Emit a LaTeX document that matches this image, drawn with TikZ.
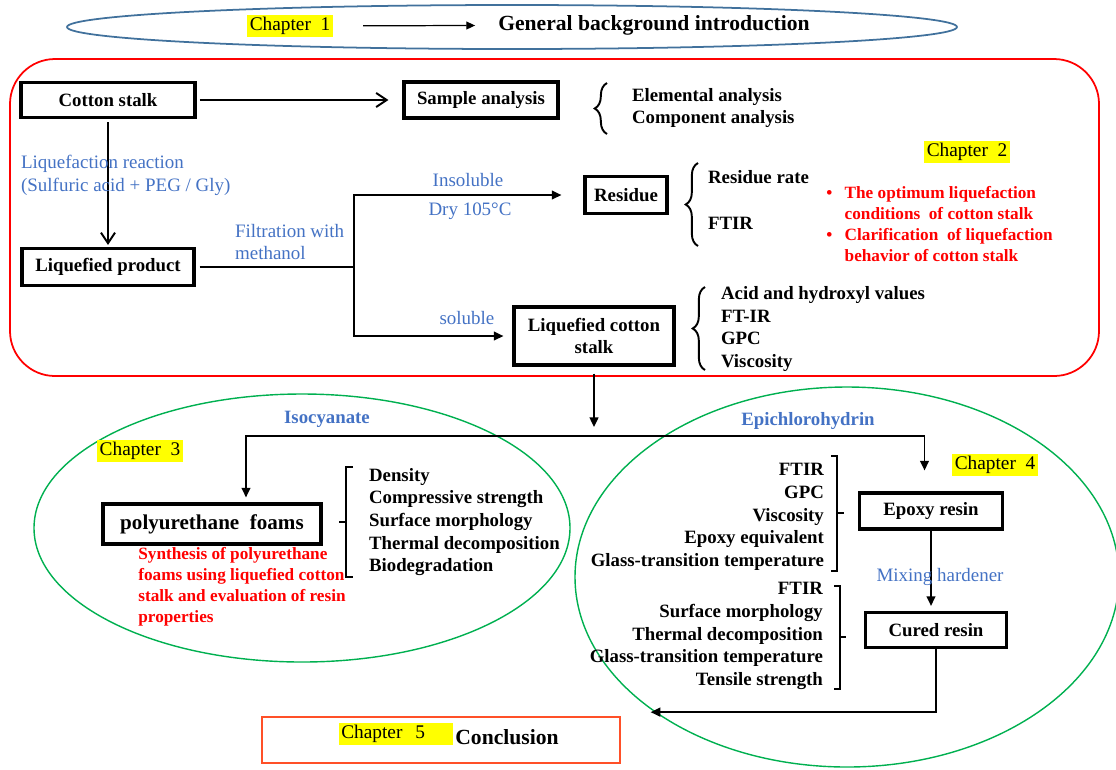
\documentclass[tikz,border=0pt]{standalone}
\usepackage{amsmath}
\usepackage{amssymb}
\usepackage{fontspec}
\setmainfont{Liberation Serif}
\usetikzlibrary{arrows.meta,decorations.pathreplacing}

\definecolor{ovalblue}{RGB}{65,113,156}
\definecolor{textblue}{RGB}{68,114,196}
\definecolor{ovalgreen}{RGB}{0,176,80}
\definecolor{conclred}{RGB}{255,80,40}
\definecolor{marker}{RGB}{255,255,0}

\tikzset{
  procbox/.style={draw, line width=1.8pt, inner sep=2pt, font=\fontsize{10.7}{13}\selectfont\bfseries},
  chaplabel/.style={fill=marker, inner sep=1.5pt, font=\fontsize{11}{13}\selectfont},
  bluenote/.style={text=textblue, inner sep=1pt, font=\fontsize{10.8}{13}\selectfont},
  boldblue/.style={text=textblue, inner sep=1pt, font=\fontsize{10.7}{13}\selectfont\bfseries},
  itemlist/.style={inner sep=1pt, font=\fontsize{10.7}{12.9}\selectfont\bfseries},
  rednote/.style={text=red, inner sep=0pt, align=left, font=\fontsize{9.8}{11.9}\selectfont\bfseries},
  curly/.style={decorate, decoration={brace, amplitude=7pt}, line width=1.1pt},
  bracket/.style={line width=1.1pt},
  flow/.style={line width=1.1pt, -{Triangle[length=5.5pt,width=5pt]}},
  openflow/.style={line width=1.1pt, -{Straight Barb[length=6pt,width=8pt]}}
}

\begin{document}
\begin{tikzpicture}[x=0.02cm, y=-0.02cm]
\useasboundingbox (0,0) rectangle (1116,769);

\draw [ovalblue, line width=1pt] (512,27) ellipse [x radius=445, y radius=22];
\node [chaplabel] (ch1) at (290,26) {Chapter\ \ 1};
\node [font=\fontsize{12.3}{14}\selectfont\bfseries] (intro) at (654,25) {General background introduction};
\draw [line width=0.7pt, -{Triangle[length=5pt,width=4.5pt]}, shorten <=0.6cm, shorten >=0.34cm] (ch1) -- (intro);

\draw [red, line width=1pt, rounded corners=0.9cm] (10,59) rectangle (1099,376);
\node [procbox, minimum width=3.48cm, minimum height=0.7cm] (cotton) at (108,100) {Cotton stalk};
\node [procbox, minimum width=3.08cm, minimum height=0.72cm] (sample) at (481,100) {Sample analysis};
\node [procbox, minimum width=3.44cm, minimum height=0.74cm] (liqprod) at (108,267) {Liquefied product};
\node [procbox, minimum width=1.64cm, minimum height=0.74cm] (residue) at (626,195) {Residue};
\node [procbox, minimum width=3.2cm, minimum height=1.16cm, align=center] (liqcotton) at (594,336) {Liquefied cotton\\stalk};

\draw [openflow, shorten <=0.06cm, shorten >=0.28cm] (cotton) -- (sample);
\draw [openflow, shorten <=0.06cm, shorten >=0.04cm] (cotton) -- (liqprod);
\node [bluenote, anchor=west, align=left] (reaction) at (19,175) {Liquefaction reaction\\(Sulfuric acid + PEG / Gly)};

\coordinate (split) at (354,267);
\draw [line width=1.1pt, shorten <=0.08cm] (liqprod) -- (split);
\draw [flow, shorten >=0.44cm] (split) |- (residue);
\draw [flow, shorten >=0.18cm] (split) |- (liqcotton);
\node [bluenote, anchor=west, align=left] (filtration) at (233,242) {Filtration with\\methanol};
\node [bluenote] (insoluble) at (468,180) {Insoluble};
\node [bluenote] (dry) at (470,211) {Dry 105°C};
\node [bluenote] (soluble) at (467,318) {soluble};

\draw [curly] (607,134) -- (607,83);
\node [itemlist, anchor=west, align=left] (samplelist) at (630,108) {Elemental analysis\\Component analysis};
\draw [curly] (698,246) -- (698,163);
\node [itemlist, anchor=west] (resrate) at (706,177) {Residue rate};
\node [itemlist, anchor=west] (resftir) at (706,223) {FTIR};
\draw [curly] (705,370) -- (705,287);
\node [itemlist, anchor=west, align=left] (liqlist) at (719,329) {Acid and hydroxyl values\\FT-IR\\GPC\\Viscosity};

\node [chaplabel] (ch2) at (967,152) {Chapter\ \ 2};
\node [rednote, anchor=north west] (aims) at (826,184) {\begin{tabular}{@{}l@{\hspace{7pt}}l@{}}\textbullet & The optimum liquefaction\\ & conditions\ \ of cotton stalk\\ \textbullet & Clarification\ \ of liquefaction\\ & behavior of cotton stalk\end{tabular}};

\coordinate (fork) at (594,436);
\draw [flow, shorten <=0.14cm, shorten >=0.18cm] (liqcotton) -- (fork);

\draw [ovalgreen, line width=0.8pt] (302,528) ellipse [x radius=268, y radius=134];
\draw [ovalgreen, line width=0.8pt] (847,577) ellipse [x radius=272, y radius=190];

\node [procbox, minimum width=4.36cm, minimum height=0.8cm, font=\fontsize{12}{14}\selectfont\bfseries] (foam) at (212,524) {polyurethane\ \ foams};
\node [procbox, minimum width=2.86cm, minimum height=0.72cm] (epoxy) at (931,511) {Epoxy resin};
\node [procbox, minimum width=2.82cm, minimum height=0.7cm] (cured) at (936,630) {Cured resin};

\draw [flow, shorten >=0.1cm] (fork) -| ([xshift=0.68cm]foam.north);
\draw [flow, shorten >=0.42cm] (fork) -| ([xshift=-0.13cm]epoxy.north);
\node [boldblue] (isocyanate) at (327,419) {Isocyanate};
\node [boldblue] (epichloro) at (808,421) {Epichlorohydrin};
\node [chaplabel] (ch3) at (140,451) {Chapter\ \ 3};
\node [chaplabel] (ch4) at (995,465) {Chapter\ \ 4};

\node [rednote, anchor=north west] (foamaim) at (138,547) {Synthesis of polyurethane\\foams using liquefied cotton\\stalk and evaluation of resin\\properties};
\draw [bracket] (353,467) -- (346,467) -- (346,577) -- (353,577) (346,522) -- (339,522);
\node [itemlist, anchor=west, align=left] (foamlist) at (367,522) {Density\\Compressive strength\\Surface morphology\\Thermal decomposition\\Biodegradation};

\node [itemlist, anchor=east, align=right] (epoxylist) at (826,517) {FTIR\\GPC\\Viscosity\\Epoxy equivalent\\Glass-transition temperature};
\draw [bracket] (831,456) -- (837,456) -- (837,571) -- (831,571) (837,513) -- (844,513);
\node [itemlist, anchor=east, align=right] (curedlist) at (825,636) {FTIR\\Surface morphology\\Thermal decomposition\\Glass-transition temperature\\Tensile strength};
\draw [bracket] (834,586) -- (840,586) -- (840,689) -- (834,689) (840,637) -- (846,637);

\draw [flow, shorten >=0.1cm] (epoxy.south) -- (epoxy.south |- cured.north);
\node [bluenote] (mixing) at (940,577) {Mixing hardener};

\node [draw=conclred, line width=1pt, minimum width=7.15cm, minimum height=0.92cm] (concl) at (441,740) {};
\node [chaplabel, text width=2.19cm, align=left] (ch5) at (396,734) {Chapter\ \ 5};
\node [font=\fontsize{12.3}{14}\selectfont\bfseries] (conclusion) at (507,737) {Conclusion};
\draw [flow] (cured.south) |- ([shift={(30,-4)}]concl.north east);
\end{tikzpicture}
\end{document}
